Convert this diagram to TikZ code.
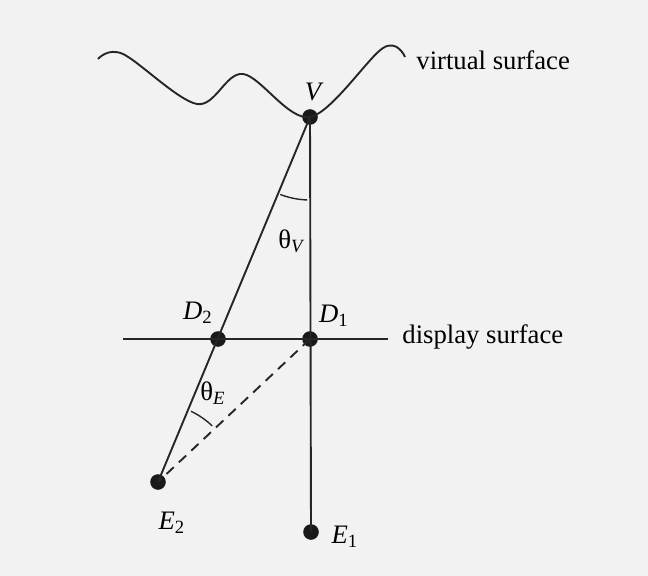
\documentclass[tikz,border=0pt]{standalone}
\usepackage{fontspec}
\setmainfont{Liberation Serif}
\usetikzlibrary{calc}
\begin{document}
\begin{tikzpicture}[x=0.5bp,y=-0.5bp,
  dot/.style={circle,fill=black!90,inner sep=0pt,minimum size=7.8bp},
  lbl/.style={inner sep=0pt,font=\fontsize{13.4}{15}\selectfont},
  ln/.style={line width=0.95bp,black!85}]
\fill[black!5] (0,0) rectangle (648,576);
\useasboundingbox (0,0) rectangle (648,576);
% points
\node[dot] (V) at (310,117) {};
\node[dot] (D1) at (310,339) {};
\node[dot] (D2) at (218,339) {};
\node[dot] (E2) at (158,482) {};
\node[dot] (E1) at (311,532) {};
\coordinate (DL) at (123,339);
\coordinate (DR) at (388,339);
% virtual surface
\draw[ln] plot[smooth,tension=0.55] coordinates {(98,59) (123,54) (197,104) (243,74) (310,117) (383,48) (405,57)};
% lines
\draw[ln] (V.center) -- (E2.center);
\draw[ln] (V.center) -- (E1.center);
\draw[ln] (DL) -- (DR);
\draw[ln,dashed,dash pattern=on 5bp off 3.5bp] (D1.center) -- (E2.center);
% angle arcs
\draw[line width=0.7bp,black!85] ([shift={(249:41.5bp)}]V.center) arc[start angle=249,end angle=268,radius=41.5bp];
\draw[line width=0.7bp,black!85] ([shift={(46:39bp)}]E2.center) arc[start angle=46,end angle=65,radius=39bp];
% labels
\node[lbl] (lV) at (313,92) {\itshape V};
\node[lbl] (lthV) at (291,241) {θ\textsubscript{\itshape V}};
\node[lbl] (lthE) at (213,393) {θ\textsubscript{\itshape E}};
\node[lbl] (lD2) at (198,313) {{\itshape D}\textsubscript{2}};
\node[lbl] (lD1) at (334,316) {{\itshape D}\textsubscript{1}};
\node[lbl] (lE2) at (172,523) {{\itshape E}\textsubscript{2}};
\node[lbl] (lE1) at (345,537) {{\itshape E}\textsubscript{1}};
\node[lbl,anchor=west] (vs) at (416,60) {virtual surface};
\node[lbl,anchor=west] (ds) at (402,337) {display surface};
\end{tikzpicture}
\end{document}
